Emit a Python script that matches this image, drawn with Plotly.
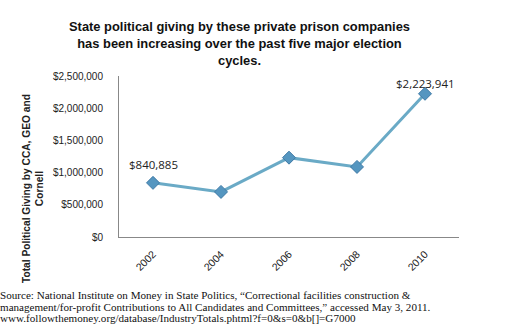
import plotly.graph_objects as go

years = ["2002", "2004", "2006", "2008", "2010"]
giving = [840885, 700000, 1232000, 1088000, 2223941]
label_idx = [0, 4]
label_values = [840885, 2223941]
label_texts = ["$840,885", "$2,223,941"]
label_shifts = [18, 10]
y_ticks = [0, 500000, 1000000, 1500000, 2000000, 2500000]
y_tick_text = ["$0", "$500,000", "$1,000,000", "$1,500,000", "$2,000,000", "$2,500,000"]

title_text = ("State political giving by these private prison companies<br>"
              "has been increasing over the past five major election<br>cycles.")
ytitle_text = "Total Political Giving by CCA, GEO and<br>Cornell"
source_lines = [
    "Source: National Institute on Money in State Politics, \u201cCorrectional facilities construction &amp;",
    "management/for-profit Contributions to All Candidates and Committees,\u201d accessed May 3, 2011.",
    "www.followthemoney.org/database/IndustryTotals.phtml?f=0&amp;s=0&amp;b[]=G7000",
]

fig = go.Figure()
fig.add_trace(go.Scatter(
    x=years, y=giving, mode="lines+markers",
    line=dict(color="#6aaac6", width=3),
    marker=dict(symbol="diamond", size=10, color="#5596c0",
                line=dict(color="#3f7aa6", width=1)),
    hoverinfo="skip", showlegend=False,
))

annotations = []
for i, v, t, s in zip(label_idx, label_values, label_texts, label_shifts):
    annotations.append(dict(x=i, y=v, xref="x", yref="y", text=t, showarrow=False,
                            yshift=s, font=dict(family="Open Sans", size=11.5, color="#222")))

# title (paper top is plot top at 76px)
annotations.append(dict(x=0, y=1, xref="paper", yref="paper", xanchor="center", yanchor="top",
                        xshift=120, yshift=59,
                        text="<b>" + title_text + "</b>", showarrow=False, align="center",
                        font=dict(family="Liberation Sans", size=12.9, color="#111")))
# y axis title
annotations.append(dict(x=0, y=0, xref="paper", yref="paper", xanchor="center", yanchor="middle",
                        xshift=-86, yshift=48,
                        text="<b>" + ytitle_text + "</b>", textangle=-90, showarrow=False, align="center",
                        font=dict(family="Liberation Sans", size=10.2, color="#222")))
for k, line in enumerate(source_lines):
    annotations.append(dict(x=0, y=0, xref="paper", yref="paper", xanchor="left", yanchor="middle",
                            xshift=-121, yshift=-58 - 11.5 * k,
                            text=line, showarrow=False, align="left",
                            font=dict(family="Liberation Serif", size=11.1, color="#111")))

fig.update_layout(
    width=509, height=330,
    margin=dict(l=119, r=50, t=76, b=93),
    paper_bgcolor="white", plot_bgcolor="white",
    annotations=annotations,
    xaxis=dict(type="category", range=[-0.5, 4.5], tickangle=-45, showline=True,
               linecolor="#888", linewidth=1, showgrid=False, ticks="", ticklabelstandoff=6,
               tickfont=dict(family="Liberation Sans", size=10.5, color="#222"), fixedrange=True),
    yaxis=dict(range=[0, 2500000], tickvals=y_ticks, ticktext=y_tick_text, showline=True,
               linecolor="#888", linewidth=1, showgrid=False, ticks="", zeroline=False,
               ticklabelstandoff=13,
               tickfont=dict(family="Liberation Sans", size=10, color="#222"), fixedrange=True),
)
fig.write_html("out.html", config={"displayModeBar": False})
